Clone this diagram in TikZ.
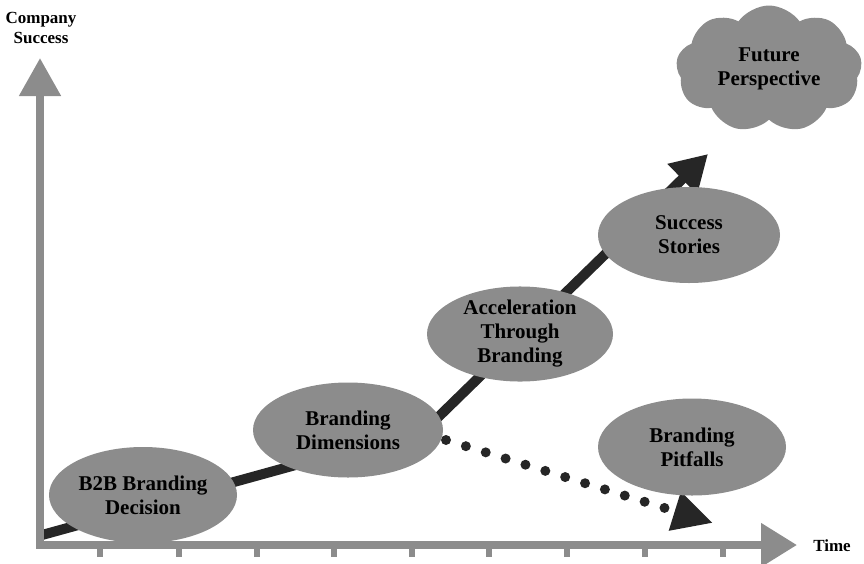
\documentclass[tikz,border=0pt]{standalone}
\usepackage{fontspec}
\setmainfont{Liberation Serif}
\usetikzlibrary{arrows.meta,shapes.geometric,shapes.symbols,backgrounds}

\definecolor{axisgray}{RGB}{140,140,140}
\definecolor{trendblack}{RGB}{38,38,38}

\begin{document}
\begin{tikzpicture}[x=1pt,y=-1pt,
  stage/.style={ellipse,fill=axisgray,inner sep=0pt,align=center,
    font=\fontsize{21}{24}\selectfont\bfseries},
  axis/.style={draw=axisgray,line width=8pt,line join=miter},
  axislabel/.style={align=center,font=\fontsize{17}{20}\selectfont\bfseries},
  tick/.style={draw=axisgray,line width=6pt},
  trend/.style={draw=trendblack,line width=10pt,line join=round,
    -{Triangle[length=36pt,width=40pt]}},
  pitfall/.style={draw=trendblack,line width=10pt,line cap=round,
    dash pattern=on 0pt off 20.8pt,-{Triangle[length=40pt,width=38pt]}}]

\useasboundingbox (0,0) rectangle (864,563);

% stages
\node[stage,minimum width=188pt,minimum height=96pt] (decision)  at (143,495) {B2B Branding\\Decision};
\node[stage,minimum width=190pt,minimum height=95pt] (dimension) at (348,430) {Branding\\Dimensions};
\node[stage,minimum width=186pt,minimum height=92pt] (accel)     at (520,334) {Acceleration\\Through\\Branding};
\node[stage,minimum width=182pt,minimum height=96pt] (stories)   at (689,235) {Success\\Stories};
\node[stage,minimum width=188pt,minimum height=97pt] (pitfalls)  at (692,447) {Branding\\Pitfalls};
\node[cloud,cloud puffs=9,cloud puff arc=110,aspect=1.45,fill=axisgray,inner sep=0pt,align=center,
      minimum width=186pt,minimum height=127pt,
      font=\fontsize{21}{24}\selectfont\bfseries] (future) at (769,69) {Future\\Perspective};

% axes
\coordinate (origin) at (40,545);
\coordinate (ytip)   at (40,58);
\coordinate (xtip)   at (797,545);
\node[axislabel] (ylabel) at (41,28)  {Company\\Success};
\node[axislabel] (xlabel) at (832,546) {Time};

\foreach \tx in {100,179,257,334,412,489,567,645,723}
  \draw[tick] (\tx,545) -- (\tx,557);
\draw[axis,{Triangle[length=38pt,width=40pt]}-{Triangle[length=36pt,width=42pt]}]
  (ytip) -- (origin) -- (xtip);

% trend lines
\coordinate (start)  at (42,535);
\coordinate (bend)   at (426,429);
\coordinate (growth) at (708,154);
\coordinate (fall)   at (446,440);
\coordinate (down)   at (713,523);

\begin{scope}[on background layer]
\draw[trend] (start) -- (bend) -- (growth);
\draw[pitfall] (fall) -- (down);
\end{scope}

\end{tikzpicture}
\end{document}
